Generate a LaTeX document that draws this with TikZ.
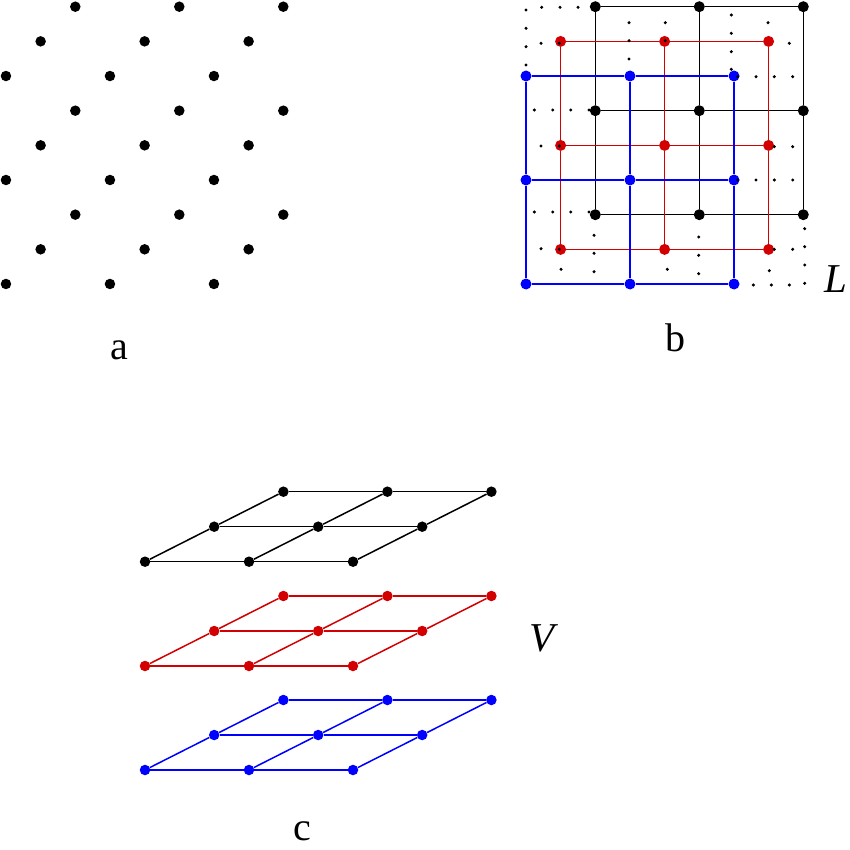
\documentclass[tikz,border=0pt]{standalone}
\usepackage{fontspec}
\setmainfont{Liberation Serif}
\definecolor{lred}{RGB}{210,0,0}
\definecolor{lblue}{RGB}{0,0,255}
\begin{document}
\begin{tikzpicture}[x=1pt,y=-1pt,
  adot/.style={circle,fill=black,inner sep=0pt,minimum size=10.5pt},
  gdot/.style={circle,fill=#1,inner sep=0pt,minimum size=11pt},
  cdot/.style={circle,fill=#1,inner sep=0pt,minimum size=10.5pt},
  sdot/.style={circle,fill=black,inner sep=0pt,minimum size=3.4pt},
  gline/.style={draw=#1,line width=1.5pt},
  lab/.style={font=\fontsize{40}{48}\selectfont,inner sep=0pt,anchor=base},
  ilab/.style={font=\fontsize{41}{48}\selectfont\itshape,inner sep=0pt,anchor=base west}]
\useasboundingbox (0,0) rectangle (850,850);

% ---------- panel a ----------
\foreach \i in {0,...,8}{
  \foreach \j in {0,1,2}{
    \pgfmathsetmacro\xx{75.3-34.67*mod(\i,3)+104*\j}
    \pgfmathsetmacro\yy{6.7+34.66*\i}
    \node[adot] (a-\i-\j) at (\xx,\yy) {};
  }
}
\node[lab] (la) at (119,359) {a};

% ---------- panel b ----------
\foreach \k/\col/\ox/\oy in {0/black/595.3/6.7, 1/lred/560.6/41.4, 2/lblue/526/76}{
  \foreach \i in {0,1,2}{
    \foreach \j in {0,1,2}{
      \node[gdot=\col] (b-\k-\i-\j) at (\ox+104*\j,\oy+104*\i) {};
    }
  }
  \foreach \i in {0,1,2}{
    \draw[gline=\col] (b-\k-\i-0) -- (b-\k-\i-1) -- (b-\k-\i-2);
    \draw[gline=\col] (b-\k-0-\i) -- (b-\k-1-\i) -- (b-\k-2-\i);
  }
}
\foreach \n/\p in {1/{526,10},2/{541.7,7.3},3/{560,7.3},4/{578,7.3},5/{526,28.3},6/{526,46.7},7/{526,65},
  8/{541,43.3},9/{559.3,43.3},10/{629,22.7},11/{665.3,22.7},12/{629,40.7},13/{629,59},14/{665.3,40.7},
  15/{731.3,15},16/{731.3,33.3},17/{731.3,51.7},18/{731.3,69.3},19/{768,22.7},20/{789.3,43.3},
  21/{737.7,76.7},22/{756,76.7},23/{774.3,76.7},24/{792.7,76.7},
  25/{534.3,110},26/{552.7,110},27/{570.7,110},28/{589,110},
  29/{541,146},30/{559.3,146},31/{774.3,146.7},32/{792.7,146.7},
  33/{737.7,180},34/{756,180},35/{774.3,180},36/{792.7,180},
  37/{534.3,212},38/{552.7,212},39/{570.7,212},40/{589,212},
  41/{594,235.3},42/{594,253.3},43/{594,271.7},44/{698.7,237},45/{698.7,255.3},46/{698.7,273.7},
  47/{804.7,228.7},48/{804.7,246.7},49/{804.7,265},50/{804.7,283.3},
  51/{541,248.7},52/{559.3,249.3},53/{774.3,249.3},54/{792.7,249.3},
  55/{561,269.3},56/{667.3,269.3},57/{769.3,270.7},
  58/{753.3,285},59/{771.3,285},60/{789.3,285}}{
  \node[sdot] (s-\n) at (\p) {};
}
\node[ilab] (lL) at (824,292.7) {L};
\node[lab] (lb) at (675,351.7) {b};

% ---------- panel c ----------
\foreach \k/\col/\by in {0/black/561.7, 1/lred/666, 2/lblue/770}{
  \foreach \r in {0,1,2}{
    \foreach \c in {0,1,2}{
      \node[cdot=\col] (c-\k-\r-\c) at (145+104*\c+69.2*\r,\by-35*\r) {};
    }
  }
  \foreach \r in {0,1,2}{
    \draw[gline=\col] (c-\k-\r-0) -- (c-\k-\r-1) -- (c-\k-\r-2);
    \draw[gline=\col] (c-\k-0-\r) -- (c-\k-1-\r) -- (c-\k-2-\r);
  }
}
\node[ilab] (lV) at (529,651.7) {V};
\node[lab] (lc) at (302,840) {c};
\end{tikzpicture}
\end{document}
